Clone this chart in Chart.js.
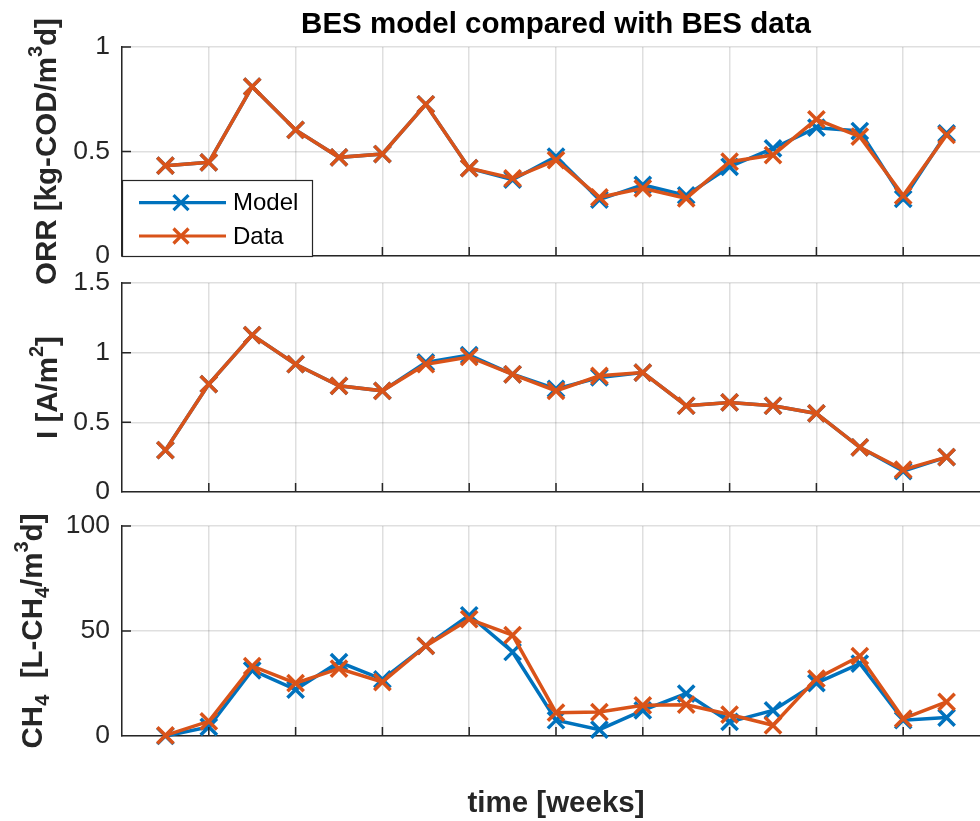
<!DOCTYPE html>
<html>
<head>
<meta charset="utf-8">
<script src="https://cdn.jsdelivr.net/npm/chart.js@4"></script>
<style>
  html, body { margin: 0; padding: 0; background: #fff; overflow: hidden; width: 980px; height: 821px; }
  canvas { position: absolute; left: 0; top: 0; }
</style>
</head>
<body>
<canvas id="cA" width="1000" height="821"></canvas>
<canvas id="cB" width="1000" height="821"></canvas>
<canvas id="cC" width="1000" height="821"></canvas>
<script>
// ---- data ----
const weeks = [1,2,3,4,5,6,7,8,9,10,11,12,13,14,15,16,17,18,19];
const seriesNames = ['Model', 'Data'];

const orrModel = [0.432,0.448,0.81,0.603,0.472,0.488,0.726,0.42,0.365,0.475,0.27,0.34,0.29,0.427,0.515,0.614,0.598,0.273,0.587];
const orrData  = [0.432,0.448,0.81,0.603,0.472,0.488,0.726,0.42,0.372,0.459,0.281,0.324,0.276,0.451,0.483,0.654,0.571,0.289,0.579];

const curModel = [0.30,0.774,1.126,0.917,0.762,0.726,0.93,0.983,0.845,0.74,0.822,0.857,0.619,0.643,0.619,0.564,0.321,0.15,0.25];
const curData  = [0.30,0.774,1.126,0.917,0.762,0.726,0.917,0.969,0.845,0.726,0.834,0.857,0.619,0.643,0.619,0.564,0.321,0.16,0.25];

const ch4Model = [0,4.3,31.3,22.1,35.2,27,42.9,57.5,40,7.5,3.0,12.2,20.2,6.7,12.2,25.2,34.5,7.5,8.8];
const ch4Data  = [0.3,7.0,33.3,25.2,32.1,25.7,42.9,55.6,48,11.1,11.4,14.6,14.9,10.2,5.1,27.3,38,8.3,16.2];

const orrTicks = [0, 0.5, 1];
const curTicks = [0, 0.5, 1, 1.5];
const ch4Ticks = [0, 50, 100];
const xGridTicks = [0,2,4,6,8,10,12,14,16,18,20];

const titleText = 'BES model compared with BES data';
const xLabelText = 'time [weeks]';
const orrLabel = [{t:'ORR [kg-COD/m'},{t:'3',s:'sup'},{t:'d]'}];
const curLabel = [{t:'I [A/m'},{t:'2',s:'sup'},{t:']'}];
const ch4Label = [{t:'CH'},{t:'4',s:'sub'},{t:'  [L-CH'},{t:'4',s:'sub'},{t:'/m'},{t:'3',s:'sup'},{t:'d]'}];

// ---- style ----
const BLUE = '#0072BD', ORANGE = '#D95319', AX = '#262626';
const FONT = '"Liberation Sans", Arial, sans-serif';
Chart.defaults.font.family = FONT;

function toPts(ys) { return weeks.map((w, i) => ({x: w, y: ys[i]})); }

function ds(label, ys, color, order) {
  return {
    label, data: toPts(ys), borderColor: color, backgroundColor: color,
    borderWidth: 3.5, pointStyle: 'crossRot', pointRadius: 11.5, pointBorderWidth: 3.5,
    pointHoverRadius: 11.5, clip: false, order, tension: 0
  };
}

function drawRich(ctx, parts, bx, cy) {
  ctx.save();
  ctx.translate(bx, cy);
  ctx.rotate(-Math.PI / 2);
  ctx.fillStyle = AX;
  ctx.textAlign = 'left';
  ctx.textBaseline = 'alphabetic';
  const fontFor = p => p.s ? 'bold 20px ' + FONT : 'bold 29.5px ' + FONT;
  const widths = parts.map(p => { ctx.font = fontFor(p); return ctx.measureText(p.t).width; });
  const total = widths.reduce((a, b) => a + b, 0);
  let x = -total / 2;
  parts.forEach((p, i) => {
    ctx.font = fontFor(p);
    const dy = p.s === 'sup' ? -14 : (p.s === 'sub' ? 7 : 0);
    ctx.fillText(p.t, x, dy);
    x += widths[i];
  });
  ctx.restore();
}

function decoPlugin(opts) {
  return {
    id: 'deco',
    afterDraw(chart) {
      const ctx = chart.ctx;
      const ca = chart.chartArea;
      const xs = chart.scales.x, ys = chart.scales.y;
      ctx.save();
      ctx.strokeStyle = AX;
      ctx.lineWidth = 1.5;
      ctx.beginPath();
      xs.ticks.forEach(t => {
        const px = xs.getPixelForValue(t.value);
        if (px > ca.left + 1) { ctx.moveTo(px, ca.bottom); ctx.lineTo(px, ca.bottom - 9); }
      });
      ys.ticks.forEach(t => {
        const py = ys.getPixelForValue(t.value);
        if (py < ca.bottom - 1) { ctx.moveTo(ca.left, py); ctx.lineTo(ca.left + 9, py); }
      });
      ctx.stroke();
      ctx.restore();

      drawRich(ctx, opts.ylabel, opts.ylabelX, (ca.top + ca.bottom) / 2);

      const cx = (ca.left + ca.right) / 2;
      if (opts.title) {
        ctx.save();
        ctx.font = 'bold 29.5px ' + FONT;
        ctx.fillStyle = '#000';
        ctx.textAlign = 'center';
        ctx.textBaseline = 'alphabetic';
        ctx.fillText(opts.title, cx, 33);
        ctx.restore();
      }
      if (opts.xlabel) {
        ctx.save();
        ctx.font = 'bold 29.5px ' + FONT;
        ctx.fillStyle = AX;
        ctx.textAlign = 'center';
        ctx.textBaseline = 'alphabetic';
        ctx.fillText(opts.xlabel, cx, opts.xlabelY);
        ctx.restore();
      }
      if (opts.legend) {
        const L = ca.left, T = 180, W = 190, H = 76;
        ctx.save();
        ctx.fillStyle = '#fff';
        ctx.fillRect(L, T, W, H);
        ctx.strokeStyle = AX;
        ctx.lineWidth = 1.2;
        ctx.strokeRect(L + 0.5, T + 0.5, W, H);
        const metas = chart.data.datasets;
        const rows = [T + 22.7, T + 56];
        metas.forEach((d, i) => {
          const y = rows[i];
          ctx.strokeStyle = d.borderColor;
          ctx.lineWidth = 3.2;
          ctx.beginPath();
          ctx.moveTo(L + 17, y); ctx.lineTo(L + 104, y);
          ctx.stroke();
          const mx = L + 59, r = 7.5;
          ctx.beginPath();
          ctx.moveTo(mx - r, y - r); ctx.lineTo(mx + r, y + r);
          ctx.moveTo(mx - r, y + r); ctx.lineTo(mx + r, y - r);
          ctx.stroke();
          ctx.fillStyle = '#000';
          ctx.font = '24px ' + FONT;
          ctx.textAlign = 'left';
          ctx.textBaseline = 'middle';
          ctx.fillText(d.label, L + 111, y + 1);
        });
        ctx.restore();
      }
    }
  };
}

function makeChart(id, model, data, yMin, yMax, yTicks, pad, opts) {
  const ctx = document.getElementById(id);
  return new Chart(ctx, {
    type: 'line',
    data: { datasets: [ds(seriesNames[0], model, BLUE, 1), ds(seriesNames[1], data, ORANGE, 0)] },
    options: {
      responsive: false,
      animation: false,
      events: [],
      layout: { autoPadding: false, padding: pad },
      plugins: { legend: { display: false }, title: { display: false }, tooltip: { enabled: false } },
      scales: {
        x: {
          type: 'linear', min: 0, max: 20,
          afterBuildTicks: s => { s.ticks = xGridTicks.map(v => ({value: v})); },
          afterFit: s => { s.height = 0; s.paddingLeft = 0; s.paddingRight = 0; s.paddingTop = 0; s.paddingBottom = 0; },
          ticks: { display: false },
          grid: { color: 'rgba(38,38,38,0.15)', lineWidth: 1.5, drawTicks: false },
          border: { display: true, color: AX, width: 1.5 }
        },
        y: {
          type: 'linear', min: yMin, max: yMax,
          afterBuildTicks: s => { s.ticks = yTicks.map(v => ({value: v})); },
          afterFit: s => { s.width = 122; s.paddingTop = 0; s.paddingBottom = 0; s.paddingLeft = 0; s.paddingRight = 0; },
          ticks: { color: AX, font: { size: 26.5, family: FONT }, padding: 12, callback: v => String(v) },
          grid: { color: 'rgba(38,38,38,0.15)', lineWidth: 1.5, drawTicks: false, tickLength: 0 },
          border: { display: true, color: AX, width: 1.5 }
        }
      }
    },
    plugins: [decoPlugin(opts)]
  });
}

makeChart('cA', orrModel, orrData, 0, 1, orrTicks,
  { top: 47, bottom: 821 - 256, left: 0, right: 10 },
  { ylabel: orrLabel, ylabelX: 56, title: titleText, legend: true });

makeChart('cB', curModel, curData, 0, 1.5, curTicks,
  { top: 283, bottom: 821 - 492, left: 0, right: 10 },
  { ylabel: curLabel, ylabelX: 57 });

makeChart('cC', ch4Model, ch4Data, 0, 100, ch4Ticks,
  { top: 526, bottom: 821 - 736, left: 0, right: 10 },
  { ylabel: ch4Label, ylabelX: 41.5, xlabel: xLabelText, xlabelY: 812 });
</script>
</body>
</html>
